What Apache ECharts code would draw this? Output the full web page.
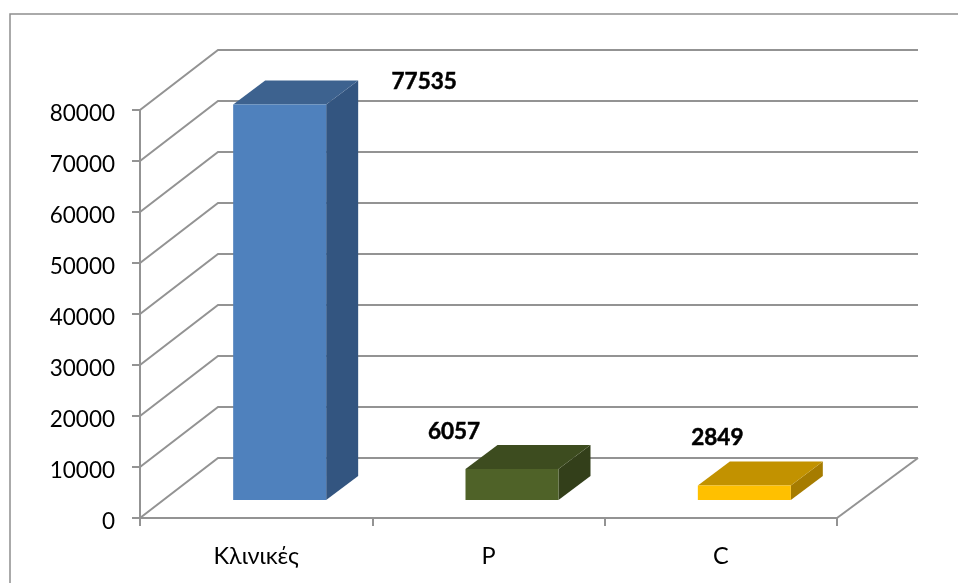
<!DOCTYPE html>
<html><head><meta charset="utf-8">
<style>html,body{margin:0;padding:0;background:#fff}#c{width:958px;height:583px}</style>
<script src="https://cdn.jsdelivr.net/npm/echarts@6/dist/echarts.min.js"></script>
</head><body><div id="c"></div>
<script>
const categories = ['Κλινικές', 'P', 'C'];
const values = [77535, 6057, 2849];
const wallTicks = [0, 10000, 20000, 30000, 40000, 50000, 60000, 70000, 80000];
const frontColors = ['#4F81BD', '#4F6228', '#FFC000'];
const topColors = ['#3D628F', '#3D4C1F', '#C29200'];
const sideColors = ['#335580', '#333F1A', '#A67C00'];
const labelShift = [[144.5, -23], [-58, -37], [-27, -47.5]];

const LINE = '#939393', FONT = 'Lato, "Open Sans", sans-serif';
const wallDX = 78, wallDY = -60, rightExtra = 3;
const barW = 93, barDX = 23.5, barDY = -18, depthX = 32, depthY = -24;

function renderWall(params, api) {
  const cs = params.coordSys, v = api.value(1);
  const y = api.coord([0, v])[1], x0 = cs.x, x1 = cs.x + cs.width;
  const children = [{
    type: 'polyline',
    shape: { points: [[x0, y], [x0 + wallDX, y + wallDY], [x1 + wallDX + rightExtra, y + wallDY]] },
    style: { stroke: LINE, lineWidth: 2, fill: null }
  }];
  if (v === 0) children.push({
    type: 'line',
    shape: { x1: x1, y1: y, x2: x1 + wallDX + rightExtra, y2: y + wallDY },
    style: { stroke: LINE, lineWidth: 2 }
  });
  return { type: 'group', children };
}
function renderBar(params, api) {
  const i = api.value(0), v = api.value(1);
  const base = api.coord([i, 0]), top = api.coord([i, v]);
  const l = base[0] + barDX - barW / 2, r = l + barW;
  const b = base[1] + barDY, t = top[1] + barDY;
  const poly = (pts, fill) => ({ type: 'polygon', shape: { points: pts }, style: { fill, stroke: null } });
  return { type: 'group', children: [
    poly([[r, b], [r + depthX, b + depthY], [r + depthX, t + depthY], [r, t]], sideColors[i]),
    poly([[l, t], [r, t], [r + depthX, t + depthY], [l + depthX, t + depthY]], topColors[i]),
    poly([[l, t], [r, t], [r, b], [l, b]], frontColors[i]),
    { type: 'text', x: (l + r) / 2 + labelShift[i][0], y: t + labelShift[i][1],
      style: { text: String(v), font: 'bold 22.5px ' + FONT, fill: '#000', stroke: '#000', lineWidth: 0.5, align: 'center', verticalAlign: 'middle' } }
  ] };
}
const chart = echarts.init(document.getElementById('c'), null, { renderer: 'canvas' });
chart.setOption({
  animation: false,
  backgroundColor: '#fff',
  graphic: [{ type: 'rect', silent: true, z: 0, shape: { x: 10, y: 14, width: 1200, height: 900 },
    style: { fill: null, stroke: '#8f8f8f', lineWidth: 1.5 } }],
  grid: { left: 140, right: 121, top: 110, bottom: 65 },
  xAxis: { type: 'category', data: categories, boundaryGap: true,
    axisLine: { lineStyle: { color: LINE, width: 2 } },
    axisTick: { show: true, length: 8, alignWithLabel: false, lineStyle: { color: LINE, width: 2 } },
    axisLabel: { fontFamily: FONT, fontSize: 23.5, color: '#000', margin: 26 } },
  yAxis: { type: 'value', min: 0, max: 80000, interval: 10000,
    axisLine: { show: true, lineStyle: { color: LINE, width: 2 } },
    axisTick: { show: true, length: 8, lineStyle: { color: LINE, width: 2 } },
    axisLabel: { margin: 25, formatter: v => '{t|' + v + '}',
      rich: { t: { fontFamily: FONT, fontSize: 22.5, color: '#000', padding: [8, 0, 0, 0] } } },
    splitLine: { show: false } },
  series: [
    { type: 'custom', renderItem: renderWall, clip: false, z: 1, silent: true,
      data: wallTicks.map(v => [0, v]), encode: { x: 0, y: 1 } },
    { type: 'custom', renderItem: renderBar, clip: false, z: 3, silent: true,
      data: values.map((v, i) => [i, v]), encode: { x: 0, y: 1 } }
  ]
});
</script></body></html>
